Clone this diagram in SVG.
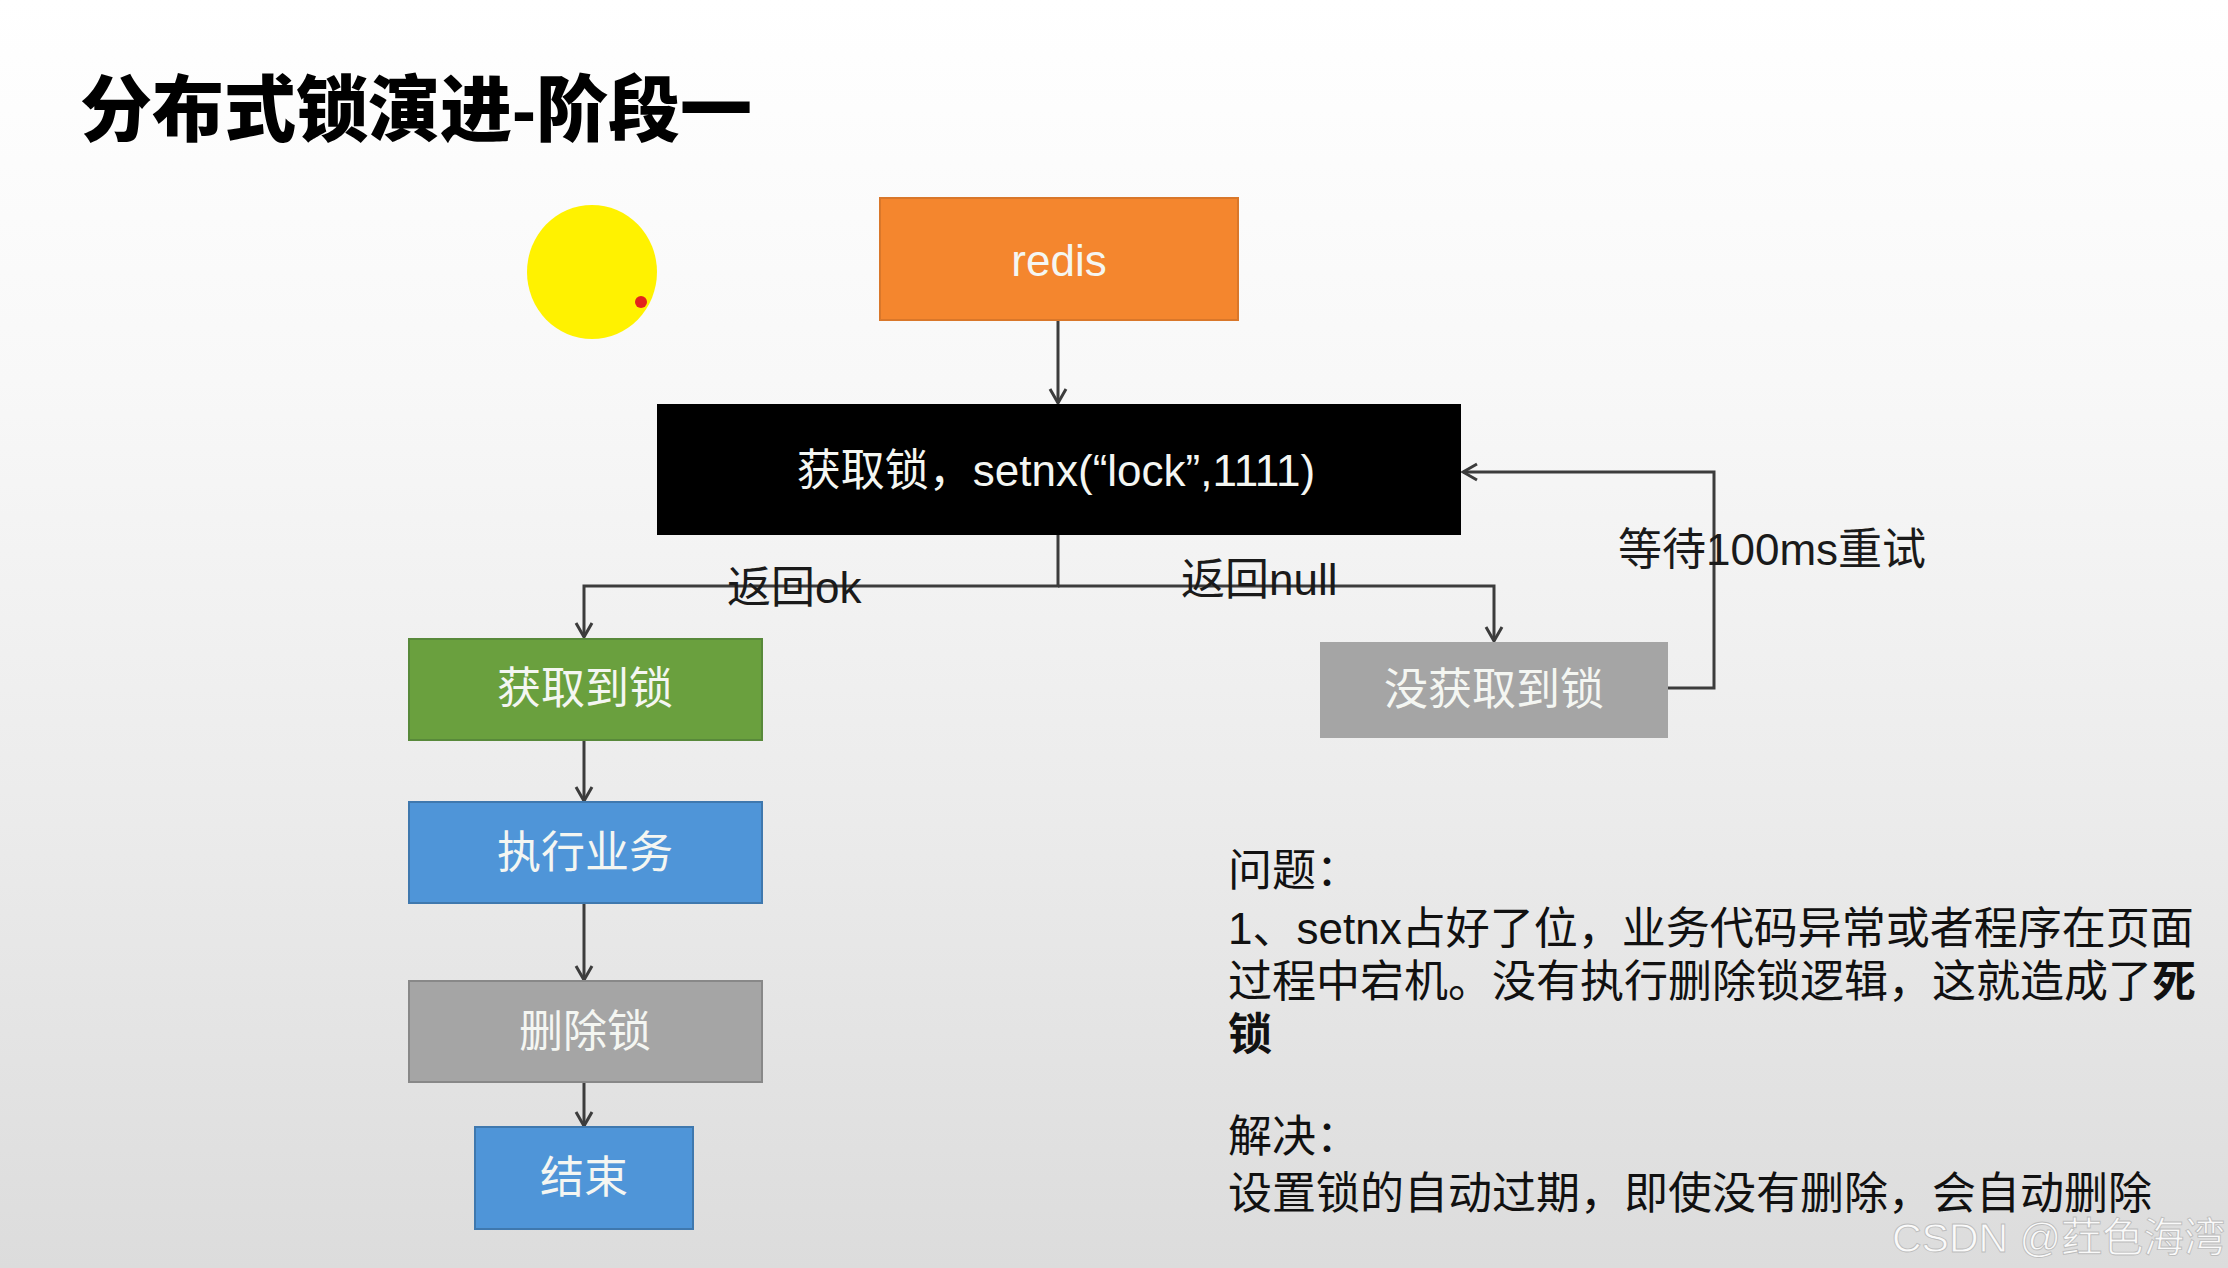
<svg xmlns="http://www.w3.org/2000/svg" width="2228" height="1268" viewBox="0 0 2228 1268">
  <defs>
    <linearGradient id="bg" x1="0" y1="0" x2="0" y2="1">
      <stop offset="0" stop-color="#FFFFFF"/>
      <stop offset="0.3" stop-color="#F8F8F8"/>
      <stop offset="0.65" stop-color="#EBEBEB"/>
      <stop offset="1" stop-color="#DCDCDC"/>
    </linearGradient>
    <marker id="arrow" markerUnits="userSpaceOnUse" markerWidth="20" markerHeight="20" viewBox="0 0 20 20" refX="18" refY="10" orient="auto">
      <path d="M4,2 L18,10 L4,18" fill="none" stroke="#3C3C3C" stroke-width="3" stroke-linejoin="miter"/>
    </marker>
    <style>
      .txt { font-family: "Liberation Sans", "Noto Sans CJK SC", sans-serif; }
      .node-label { font-size: 44px; text-anchor: middle; fill: #F4F6F2; }
      .edge { fill: none; stroke: #3C3C3C; stroke-width: 3; }
      .edge-label { font-size: 44px; fill: #1A1A1A; }
      .note { font-size: 44px; fill: #111111; }
    </style>
  </defs>

  <rect x="0" y="0" width="2228" height="1268" fill="url(#bg)"/>

  <text class="txt" x="80" y="135" font-size="72" font-weight="900" fill="#000000">分布式锁演进-阶段一</text>

  <g id="sun">
    <ellipse cx="592" cy="272" rx="65" ry="67" fill="#FFF200"/>
    <circle cx="641" cy="302" r="6" fill="#E3231B"/>
  </g>

  <g id="connectors">
    <path class="edge" d="M1058,320 V403" marker-end="url(#arrow)"/>
    <path class="edge" d="M1058,535 V586 H584 V637" marker-end="url(#arrow)"/>
    <path class="edge" d="M1058,586 H1494 V641" marker-end="url(#arrow)"/>
    <path class="edge" d="M1668,688 H1714 V472 H1463" marker-end="url(#arrow)"/>
    <path class="edge" d="M584,740 V801" marker-end="url(#arrow)"/>
    <path class="edge" d="M584,903 V980" marker-end="url(#arrow)"/>
    <path class="edge" d="M584,1082 V1126" marker-end="url(#arrow)"/>
  </g>

  <g id="edge-labels">
    <text class="txt edge-label" x="727" y="603">返回ok</text>
    <text class="txt edge-label" x="1181" y="595">返回null</text>
    <text class="txt edge-label" x="1618" y="565">等待100ms重试</text>
  </g>

  <g id="redis">
    <rect x="880" y="198" width="358" height="122" fill="#F4862E" stroke="#D9772A" stroke-width="2"/>
    <text class="txt node-label" x="1059" y="276" fill="#FFFFFF">redis</text>
  </g>

  <g id="acquire">
    <rect x="657" y="404" width="804" height="131" fill="#000000"/>
    <text class="txt node-label" x="1056" y="486" fill="#FFFFFF">获取锁，setnx(“lock”,1111)</text>
  </g>

  <g id="got-lock">
    <rect x="409" y="639" width="353" height="101" fill="#6AA03E" stroke="#58893A" stroke-width="2"/>
    <text class="txt node-label" x="585" y="704">获取到锁</text>
  </g>

  <g id="no-lock">
    <rect x="1320" y="642" width="348" height="96" fill="#A5A5A5"/>
    <text class="txt node-label" x="1494" y="705">没获取到锁</text>
  </g>

  <g id="business">
    <rect x="409" y="802" width="353" height="101" fill="#4F95D8" stroke="#3F78AE" stroke-width="2"/>
    <text class="txt node-label" x="585" y="868">执行业务</text>
  </g>

  <g id="delete-lock">
    <rect x="409" y="981" width="353" height="101" fill="#A5A5A5" stroke="#888888" stroke-width="2"/>
    <text class="txt node-label" x="585" y="1047">删除锁</text>
  </g>

  <g id="end">
    <rect x="475" y="1127" width="218" height="102" fill="#4F95D8" stroke="#3F78AE" stroke-width="2"/>
    <text class="txt node-label" x="584" y="1193">结束</text>
  </g>

  <g id="notes">
    <text class="txt note" x="1228" y="886">问题：</text>
    <text class="txt note" x="1228" y="944">1、setnx占好了位，业务代码异常或者程序在页面</text>
    <text class="txt note" x="1228" y="997">过程中宕机。没有执行删除锁逻辑，这就造成了<tspan font-weight="bold">死</tspan></text>
    <text class="txt note" x="1228" y="1050" font-weight="bold">锁</text>
    <text class="txt note" x="1228" y="1152">解决：</text>
    <text class="txt note" x="1228" y="1209">设置锁的自动过期，即使没有删除，会自动删除</text>
  </g>

  <text class="txt" x="1892" y="1252" font-size="41" fill="#FAFAFA" stroke="#BDBDBD" stroke-width="0.9">CSDN @荭色海湾</text>
</svg>
